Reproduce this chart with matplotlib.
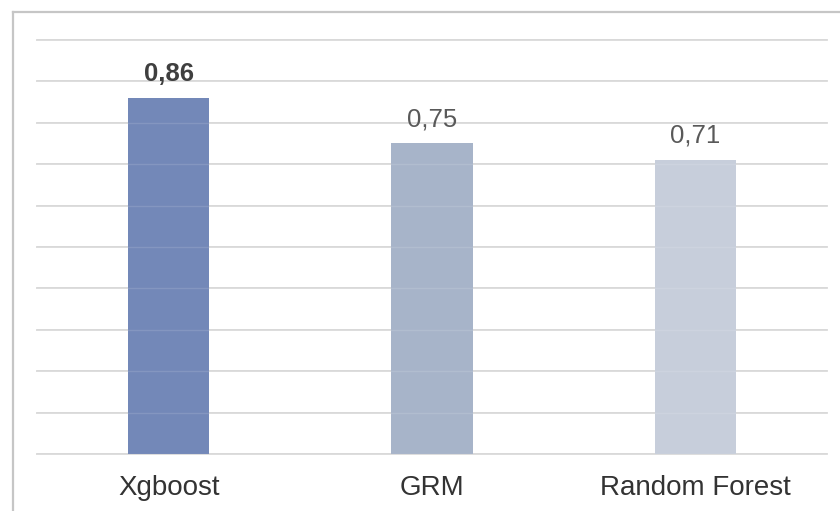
import matplotlib
matplotlib.use("Agg")
import matplotlib.pyplot as plt
from matplotlib.lines import Line2D

# data
models = ["Xgboost", "GRM", "Random Forest"]
scores = [0.86, 0.75, 0.71]
score_labels = ["0,86", "0,75", "0,71"]
bar_colors = ["#7388b8", "#a7b4c9", "#c7cedb"]

plt.rcParams['font.family'] = ['Liberation Sans', 'DejaVu Sans']

W, H = 840, 511
fig = plt.figure(figsize=(W / 100, H / 100), dpi=100)
fig.patch.set_facecolor("white")

# axes box in pixels: x 37..827, y 40..454
ax = fig.add_axes([37 / W, (H - 454) / H, (827 - 37) / W, (454 - 40) / H])
ax.set_xlim(-0.5, 2.5)
ax.set_ylim(0, 1.0)

ax.bar(range(len(models)), scores, width=0.31, color=bar_colors, zorder=2)

# horizontal grid every 0.1
for g in [i / 10 for i in range(11)]:
    ax.axhline(g, color="#d6d6d6", lw=1.3, zorder=1, clip_on=False)
    ax.axhline(g, color="#ffffff", lw=1.0, alpha=0.12, zorder=3, clip_on=False)

for i, (v, lab) in enumerate(zip(scores, score_labels)):
    bold = i == 0
    ax.annotate(lab, (i, v), xytext=(0, 12.5), textcoords="offset points",
                ha="center", va="baseline", fontsize=18.5,
                fontweight="bold" if bold else "normal",
                color="#3f3f3f" if bold else "#595959")

ax.set_xticks(range(len(models)))
ax.set_xticklabels(models, fontsize=20, color="#333333")
ax.tick_params(axis="x", length=0, pad=15)
ax.set_yticks([])
for s in ax.spines.values():
    s.set_visible(False)

# outer frame (left and top edges only are visible)
fig.add_artist(Line2D([12.5 / W, 12.5 / W], [0, 1 - 12.5 / H], color="#c6c6c6", lw=1.6))
fig.add_artist(Line2D([12.5 / W, 1], [1 - 12.5 / H, 1 - 12.5 / H], color="#c6c6c6", lw=1.6))

fig.savefig("out.png", dpi=100)
